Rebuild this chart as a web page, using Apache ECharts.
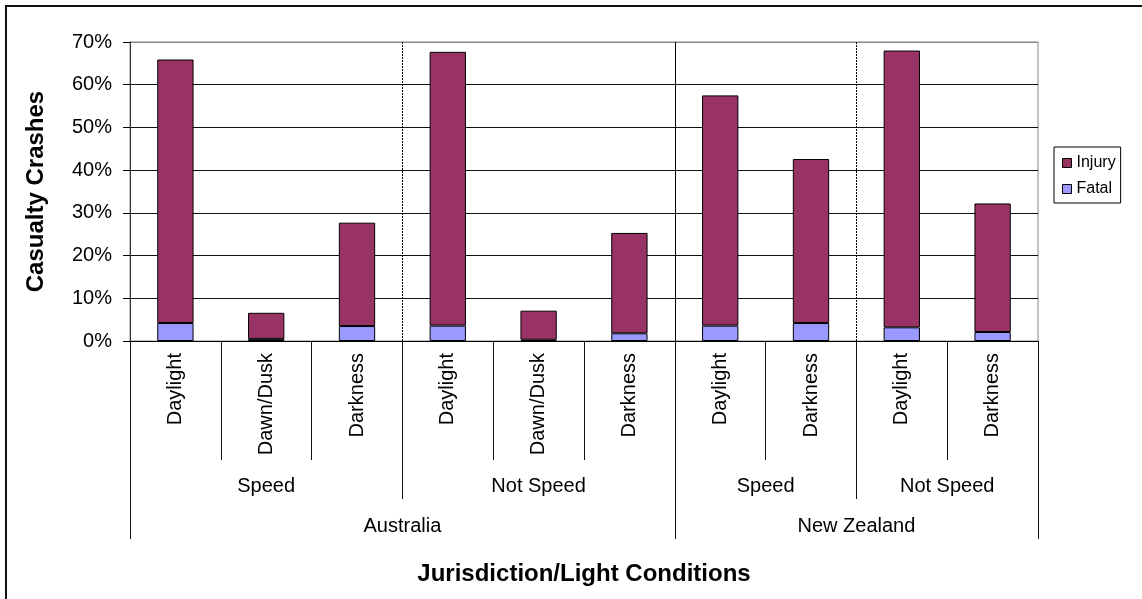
<!DOCTYPE html>
<html>
<head>
<meta charset="utf-8">
<script src="https://cdn.jsdelivr.net/npm/echarts@6/dist/echarts.min.js"></script>
<style>
  html, body { margin: 0; padding: 0; background: #fff; }
  #wrap { position: relative; width: 1142px; height: 599px; overflow: hidden; }
  #frame { position: absolute; left: 5px; top: 5px; width: 1200px; height: 700px;
           border-top: 2px solid #111; border-left: 2px solid #111; }
  #chart { position: absolute; left: 0; top: 0; width: 1142px; height: 599px; }
</style>
</head>
<body>
<div id="wrap">
  <div id="frame"></div>
  <div id="chart"></div>
</div>
<script>
// light condition per bar
var lightLabels = ['Daylight', 'Dawn/Dusk', 'Darkness', 'Daylight', 'Dawn/Dusk', 'Darkness',
                   'Daylight', 'Darkness', 'Daylight', 'Darkness'];
// crash type groups (number of bars in each)
var typeNames = ['Speed', 'Not Speed', 'Speed', 'Not Speed'];
var typeSpans = [3, 3, 2, 2];
// jurisdictions
var placeNames = ['Australia', 'New Zealand'];
var placeSpans = [6, 4];

// % of casualty crashes
var fatal  = [4.2, 0.5, 3.5, 3.6, 0.3, 1.8, 3.6, 4.2, 3.2, 2.1];
var injury = [61.7, 6.1, 24.2, 64.1, 6.8, 23.5, 53.9, 38.4, 64.8, 30.1];

var yTicks = [0, 10, 20, 30, 40, 50, 60, 70];

var FONT = "'Liberation Sans', Arial, sans-serif";

// turn spans into boundaries + centres on a 0..N value axis
function spansToAxis(spans, names) {
  var bounds = [0], centers = [], lookup = {}, pos = 0;
  spans.forEach(function (s, i) {
    centers.push(pos + s / 2);
    lookup[pos + s / 2] = names[i];
    pos += s;
    bounds.push(pos);
  });
  return { bounds: bounds, centers: centers, lookup: lookup };
}
var typeAxis = spansToAxis(typeSpans, typeNames);
var placeAxis = spansToAxis(placeSpans, placeNames);

// divider lines inside the plot: dotted between types, solid between jurisdictions
var dividers = [];
typeAxis.bounds.slice(1, -1).forEach(function (b) {
  var solid = placeAxis.bounds.indexOf(b) >= 0;
  dividers.push({ xAxis: b, lineStyle: { type: solid ? 'solid' : [2, 1], color: '#000', width: 1 } });
});

var splitColors = yTicks.map(function (v, i) { return i === yTicks.length - 1 ? '#888' : '#111'; });

var myChart = echarts.init(document.getElementById('chart'));
var option = {
  backgroundColor: 'transparent',
  animation: false,
  textStyle: { fontFamily: FONT, color: '#000' },
  grid: {
    left: 130, right: 104, top: 42, bottom: 258,
    show: true, borderColor: '#888', borderWidth: 1, backgroundColor: 'transparent'
  },
  legend: {
    data: ['Injury', 'Fatal'],
    orient: 'vertical',
    left: 1054, top: 147,
    padding: [8, 5, 6, 8],
    itemGap: 10,
    icon: 'rect',
    itemWidth: 9, itemHeight: 9,
    borderColor: '#000', borderWidth: 1,
    itemStyle: { borderColor: '#000', borderWidth: 1 },
    textStyle: { fontSize: 16, color: '#000', fontFamily: FONT }
  },
  xAxis: [
    {
      type: 'category',
      position: 'bottom',
      data: lightLabels,
      axisLine: { show: true, lineStyle: { color: '#000', width: 1 } },
      axisTick: { show: true, interval: 0, length: 119, lineStyle: { color: '#111' } },
      axisLabel: { interval: 0, rotate: 90, margin: 12, fontSize: 20, color: '#000', fontFamily: FONT },
      splitLine: { show: false }
    },
    {
      type: 'value',
      position: 'bottom',
      min: 0, max: lightLabels.length,
      axisLine: { show: false },
      splitLine: { show: false },
      axisTick: { show: true, customValues: typeAxis.bounds, length: 158, lineStyle: { color: '#111' } },
      axisLabel: {
        customValues: typeAxis.centers, margin: 135, fontSize: 20, color: '#000', fontFamily: FONT,
        formatter: function (v) { return typeAxis.lookup[v] || ''; }
      }
    },
    {
      type: 'value',
      position: 'bottom',
      min: 0, max: lightLabels.length,
      axisLine: { show: false },
      splitLine: { show: false },
      axisTick: { show: true, customValues: placeAxis.bounds, length: 198, lineStyle: { color: '#111' } },
      axisLabel: {
        customValues: placeAxis.centers, margin: 175, fontSize: 20, color: '#000', fontFamily: FONT,
        formatter: function (v) { return placeAxis.lookup[v] || ''; }
      },
      name: 'Jurisdiction/Light Conditions',
      nameLocation: 'middle',
      nameGap: 221,
      nameTextStyle: { fontSize: 24, fontWeight: 'bold', color: '#000', fontFamily: FONT }
    }
  ],
  yAxis: {
    type: 'value',
    min: yTicks[0], max: yTicks[yTicks.length - 1], interval: 10,
    name: 'Casualty Crashes',
    nameLocation: 'middle',
    nameGap: 82,
    nameTextStyle: { fontSize: 24, fontWeight: 'bold', color: '#000', fontFamily: FONT },
    axisLine: { show: true, lineStyle: { color: '#333' } },
    axisTick: { show: true, length: 7, lineStyle: { color: '#000' } },
    axisLabel: { formatter: '{value}%', margin: 18, fontSize: 20, color: '#000', fontFamily: FONT },
    splitLine: { show: true, lineStyle: { color: splitColors, width: 1 } }
  },
  series: [
    {
      name: 'Fatal', type: 'bar', stack: 'total', barWidth: '40%',
      itemStyle: { color: '#9999FF', borderColor: '#000', borderWidth: 1 },
      data: fatal
    },
    {
      name: 'Injury', type: 'bar', stack: 'total', barWidth: '40%',
      itemStyle: { color: '#993366', borderColor: '#000', borderWidth: 1 },
      data: injury
    },
    {
      // carries only the divider lines
      name: 'dividers', type: 'line', xAxisIndex: 1, yAxisIndex: 0,
      data: [], silent: true, symbol: 'none',
      markLine: { silent: true, symbol: 'none', label: { show: false }, data: dividers }
    }
  ]
};
myChart.setOption(option);
window.onresize = function () { myChart.resize(); };
</script>
</body>
</html>
